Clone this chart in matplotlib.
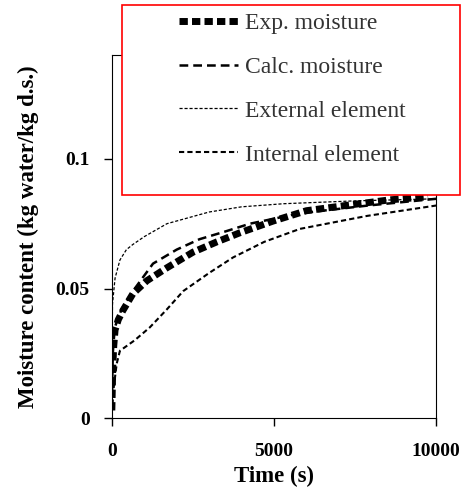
import matplotlib
matplotlib.use("Agg")
import matplotlib.pyplot as plt
from matplotlib.patches import Rectangle

plt.rcParams["font.family"] = ["Liberation Serif", "DejaVu Serif"]

exp_t = [0, 30, 60, 100, 200, 340, 650, 1080, 1700, 2500, 3240, 3950, 4970, 6000, 7200, 8580, 9750]
exp_m = [0.003, 0.02, 0.028, 0.034, 0.038, 0.0415, 0.048, 0.053, 0.058, 0.064, 0.068, 0.0715, 0.076, 0.080, 0.082, 0.0842, 0.0854]

calc_t = [0, 30, 90, 300, 650, 1270, 2000, 2700, 3500, 4260, 5800, 7900, 10000]
calc_m = [0.004, 0.025, 0.035, 0.042, 0.049, 0.0596, 0.065, 0.069, 0.072, 0.075, 0.079, 0.082, 0.0846]

ext_t = [0, 20, 100, 250, 450, 650, 1000, 1700, 3000, 4000, 5300, 7500, 10000]
ext_m = [0.005, 0.044, 0.054, 0.061, 0.065, 0.067, 0.070, 0.075, 0.0795, 0.0815, 0.0827, 0.0838, 0.0846]

int_t = [0, 60, 150, 250, 700, 1170, 1700, 2200, 3000, 3740, 4700, 5800, 7870, 10000]
int_m = [0.002, 0.012, 0.021, 0.026, 0.030, 0.035, 0.042, 0.049, 0.056, 0.062, 0.068, 0.073, 0.078, 0.082]

fig = plt.figure(figsize=(4.64, 4.92), dpi=100)
ax = fig.add_axes([0.241, 0.15, 0.699, 0.738])

ax.plot(exp_t, exp_m, color="black", lw=5, ls=(0, (1.2, 0.6)), label="Exp. moisture")
ax.plot(calc_t, calc_m, color="black", lw=1.8, ls=(0, (3.5, 2)), label="Calc. moisture")
ax.plot(ext_t, ext_m, color="black", lw=0.9, ls=(0, (2.5, 1.5)), label="External element")
ax.plot(int_t, int_m, color="black", lw=1.5, ls=(0, (2.5, 1.5)), label="Internal element")

ax.set_xlim(0, 10000)
ax.set_ylim(0, 0.14)
ax.set_xticks([0, 5000, 10000])
ax.set_yticks([0, 0.05, 0.1])
ax.set_yticklabels(["0", "0.05", "0.1"])
ax.tick_params(axis="x", direction="out", length=6, width=1, labelsize=14, pad=12)
ax.tick_params(axis="y", direction="out", length=6, width=1, labelsize=14, pad=10)
for lbl in ax.get_xticklabels() + ax.get_yticklabels():
    lbl.set_fontweight("bold")
ax.set_xlabel("Time (s)", fontsize=16.5, fontweight="bold", labelpad=4)
ax.set_ylabel("Moisture content (kg water/kg d.s.)", fontsize=16.5, fontweight="bold", labelpad=12)

# legend box drawn separately (taller than the entries)
box = Rectangle((0.263, 0.604), 0.728, 0.386, transform=fig.transFigure,
                facecolor="white", edgecolor="red", lw=1.2, zorder=5)
fig.patches.append(box)

leg = fig.legend(loc="upper left", bbox_to_anchor=(0.385, 0.975),
                 fontsize=17, labelspacing=0.95, handlelength=2.5, handletextpad=0.3,
                 frameon=False, borderpad=0, borderaxespad=0)
leg.set_zorder(6)
for txt in leg.get_texts():
    txt.set_color("#333333")

fig.savefig("out.png", dpi=100)
